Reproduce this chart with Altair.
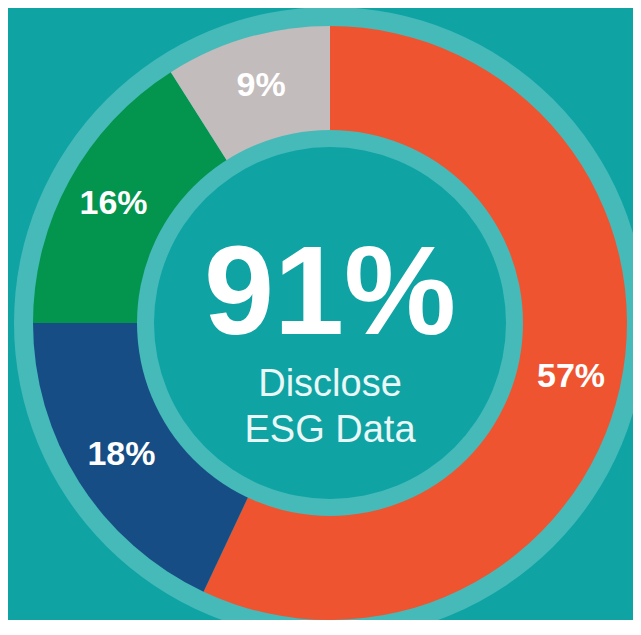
import altair as alt
import pandas as pd

# Data
labels = ["57%", "18%", "16%", "9%"]
values = [57, 18, 16, 9]
order = [1, 2, 3, 4]
colors = ["#EF5430", "#174D85", "#03944E", "#C3BCBC"]
headline = ["91%"]
subtitle = ["Disclose", "ESG Data"]

BG = "#0FA3A3"
RING = "#45BAB9"
CX, CY = 322, 315

df = pd.DataFrame({"label": labels, "value": values, "order": order})
one = pd.DataFrame({"k": [0]})

outer_ring = alt.Chart(one).mark_arc(radius=316, radius2=0, theta=0, theta2=6.2832, color=RING).encode(
    x=alt.value(CX), y=alt.value(CY))

pie = alt.Chart(df).mark_arc(radius=297, radius2=0).encode(
    theta=alt.Theta("value:Q", stack=True),
    order=alt.Order("order:Q"),
    color=alt.Color("label:N", scale=alt.Scale(domain=labels, range=colors), legend=None),
    x=alt.value(CX), y=alt.value(CY),
)

inner_ring = alt.Chart(one).mark_arc(radius=193, radius2=0, theta=0, theta2=6.2832, color=RING).encode(
    x=alt.value(CX), y=alt.value(CY))
inner_fill = alt.Chart(one).mark_arc(radius=176, radius2=0, theta=0, theta2=6.2832, color=BG).encode(
    x=alt.value(CX), y=alt.value(CY))

seg_text = alt.Chart(df).mark_text(radius=247, fontSize=34, fontWeight="bold", font="Liberation Sans",
                                   color="white", align="center", baseline="middle").encode(
    theta=alt.Theta("value:Q", stack=True),
    order=alt.Order("order:Q"),
    text="label:N",
    x=alt.value(CX), y=alt.value(CY),
)

big = alt.Chart(pd.DataFrame({"t": headline})).mark_text(
    fontSize=126, fontWeight="bold", font="Liberation Sans", color="white",
    align="center", baseline="middle").encode(
    text="t:N", x=alt.value(CX), y=alt.value(288))

sub1 = alt.Chart(pd.DataFrame({"t": subtitle[:1]})).mark_text(
    fontSize=38, font="Liberation Sans", color="#EAF7F7", align="center", baseline="middle").encode(
    text="t:N", x=alt.value(CX), y=alt.value(377))
sub2 = alt.Chart(pd.DataFrame({"t": subtitle[1:]})).mark_text(
    fontSize=38, font="Liberation Sans", color="#EAF7F7", align="center", baseline="middle").encode(
    text="t:N", x=alt.value(CX), y=alt.value(423))

chart = alt.layer(outer_ring, pie, inner_ring, inner_fill, seg_text, big, sub1, sub2).properties(
    width=625, height=612, padding=0, autosize=alt.AutoSizeParams(type="none"),
    background=BG,
).configure_view(stroke=None)

chart.save("out.html", embed_options={"renderer": "svg", "actions": False})
